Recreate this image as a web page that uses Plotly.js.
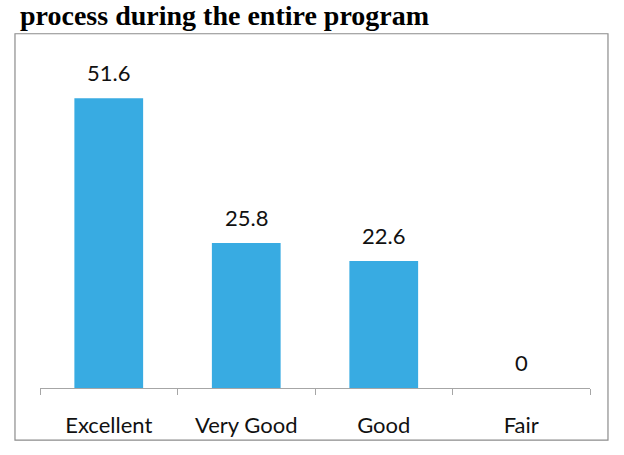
<!DOCTYPE html>
<html><head><meta charset="utf-8">
<script src="https://cdn.plot.ly/plotly-3.0.1.min.js"></script>
<style>html,body{margin:0;padding:0;background:#fff;}</style>
</head><body>
<div id="chart" style="width:624px;height:455px;"></div>
<script>
const categories = ["Excellent", "Very Good", "Good", "Fair"];
const values = [51.6, 25.8, 22.6, 0];
const labels = ["51.6", "25.8", "22.6", "0"];
const titleText = "process during the entire program";

const barColor = "#38abe2";
const font = "Lato, 'Open Sans', sans-serif";

const trace = {
  type: "bar",
  x: categories,
  y: values,
  marker: {color: barColor},
  hoverinfo: "none"
};

const annotations = categories.map((c, i) => ({
  x: c, y: values[i], xref: "x", yref: "y",
  text: labels[i], showarrow: false,
  yanchor: "bottom", yshift: 10,
  font: {family: font, size: 22, color: "#111"}
}));
annotations.push({
  xref: "paper", yref: "paper", x: -0.04, y: 1.19,
  xanchor: "left", yanchor: "top", showarrow: false,
  text: "<b>" + titleText + "</b>",
  font: {family: "'Liberation Serif', serif", size: 28, color: "#000"}
});

const layout = {
  width: 624, height: 455,
  margin: {l: 40, r: 34, t: 60, b: 67},
  paper_bgcolor: "#fff", plot_bgcolor: "rgba(0,0,0,0)",
  bargap: 0.5,
  showlegend: false,
  xaxis: {
    type: "category",
    showline: true, linecolor: "#a6a6a6", linewidth: 1,
    ticks: "outside", tickson: "boundaries", ticklen: 6, tickcolor: "#a6a6a6",
    tickfont: {family: font, size: 22, color: "#111"},
    ticklabelstandoff: 18,
    showgrid: false, zeroline: false
  },
  yaxis: {
    range: [0, 58.4], visible: false, showgrid: false, zeroline: false
  },
  annotations: annotations,
  shapes: [{
    type: "rect", xref: "paper", yref: "paper",
    x0: -0.0455, x1: 1.0327, y0: -0.159, y1: 1.08,
    line: {color: "#8c8c8c", width: 1.2}, fillcolor: "rgba(0,0,0,0)"
  }]
};

Plotly.newPlot("chart", [trace], layout, {displayModeBar: false, staticPlot: true});
</script>
</body></html>
